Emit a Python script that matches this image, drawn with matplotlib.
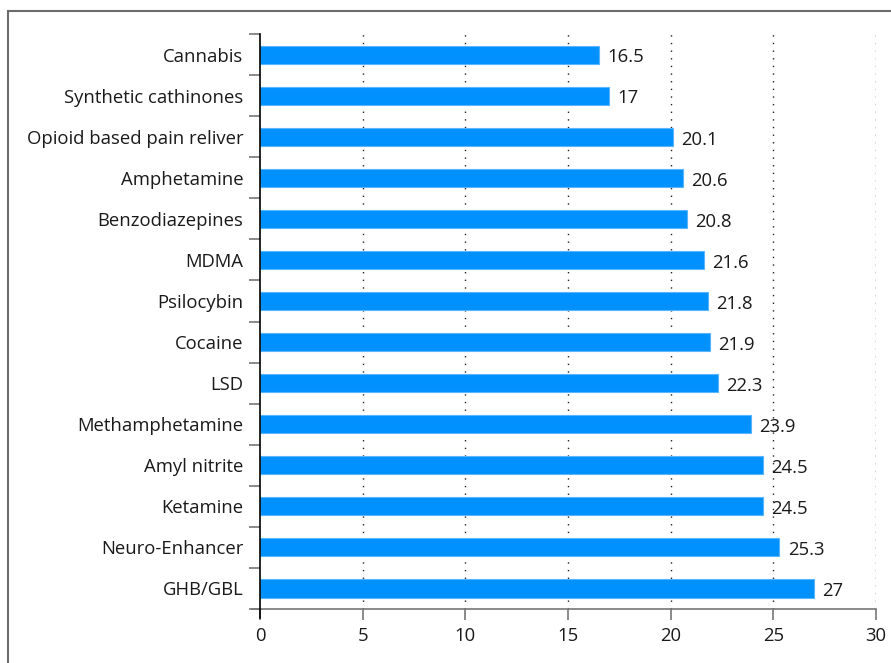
import matplotlib
import matplotlib.pyplot as plt
from matplotlib.patches import Rectangle
from matplotlib.lines import Line2D

# 약물별 평균 첫 사용 연령 (가로 막대 그래프)
drugs = ['Cannabis', 'Synthetic cathinones', 'Opioid based pain reliver',
         'Amphetamine', 'Benzodiazepines', 'MDMA', 'Psilocybin', 'Cocaine',
         'LSD', 'Methamphetamine', 'Amyl nitrite', 'Ketamine',
         'Neuro-Enhancer', 'GHB/GBL']
ages = [16.5, 17, 20.1, 20.6, 20.8, 21.6, 21.8, 21.9, 22.3, 23.9,
        24.5, 24.5, 25.3, 27]
age_labels = ['16.5', '17', '20.1', '20.6', '20.8', '21.6', '21.8', '21.9',
              '22.3', '23.9', '24.5', '24.5', '25.3', '27']
x_ticks = [0, 5, 10, 15, 20, 25, 30]

matplotlib.rcParams['font.family'] = ['Open Sans', 'DejaVu Sans']
fs = 13.3

fig = plt.figure(figsize=(8.91, 6.63), dpi=100)
ax = fig.add_axes([260 / 891, 1 - 609 / 663, 616 / 891, 575 / 663])

# 바깥 테두리
fig.patches.append(Rectangle((8 / 891, -0.1), 1.0, 1 - 11 / 663 + 0.1,
                             transform=fig.transFigure, fill=False,
                             edgecolor='#6b6b6b', linewidth=1.5))

pos = list(range(len(drugs)))
ax.barh(pos, ages, height=0.44, color='#0091ff', edgecolor='#5ab5ff',
        linewidth=0.8, zorder=3)
for p, v, t in zip(pos, ages, age_labels):
    ax.text(v + 0.4, p + 0.07, t, va='center', ha='left', fontsize=fs,
            color='#1a1a1a', zorder=4)

ax.set_xlim(0, 30)
ax.set_ylim(len(drugs) - 0.5, -0.5)
ax.set_xticks(x_ticks)
ax.set_xticklabels([str(t) for t in x_ticks])

# 세로 점선 격자
for t in x_ticks[1:]:
    ax.axvline(t, color='#222222', linestyle=(0, (1, 4.5)), linewidth=1.0,
               zorder=1)

ax.set_yticks(pos)
ax.set_yticklabels(drugs)
ax.set_yticks([p - 0.5 for p in pos] + [len(drugs) - 0.5], minor=True)
ax.tick_params(axis='y', which='major', length=0, pad=12, labelsize=fs,
               labelcolor='#1a1a1a')
ax.tick_params(axis='y', which='minor', length=8, color='#777777', width=1.2)
ax.tick_params(axis='x', length=8, color='#777777', width=1.2, pad=5,
               labelsize=fs, labelcolor='#1a1a1a')

for s in ['top', 'right']:
    ax.spines[s].set_visible(False)
ax.spines['left'].set_visible(False)
ax.spines['bottom'].set_color('#777777')
ax.spines['bottom'].set_linewidth(1.2)
ax.spines['bottom'].set_bounds(-0.4, 30)
ax.spines['bottom'].set_zorder(2)

# 왼쪽 축선은 아래로 조금 더 내려감
ax.add_line(Line2D([0, 0], [-0.015, 1], transform=ax.transAxes,
                   color='black', linewidth=1.2, clip_on=False, zorder=5))

plt.savefig('out.png', dpi=100)
